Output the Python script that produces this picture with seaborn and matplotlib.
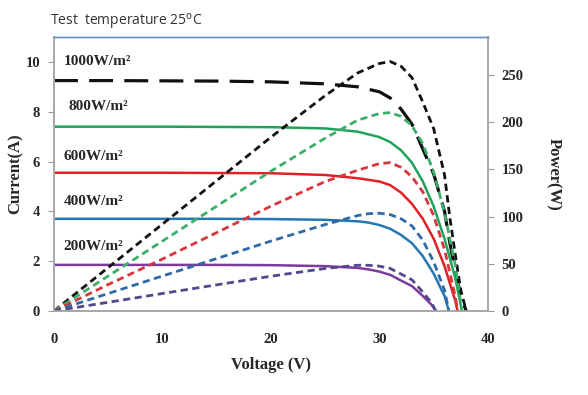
import matplotlib
matplotlib.use("Agg")
import matplotlib.pyplot as plt
import seaborn as sns

# ---- data ----
irradiances = ["1000W/m²", "800W/m²", "600W/m²", "400W/m²", "200W/m²"]

v_1000 = [0, 5, 10, 15, 20, 25, 28, 30, 31, 32, 33, 34, 35, 36, 36.5, 37, 37.5, 38.0]
i_1000 = [9.25, 9.25, 9.24, 9.23, 9.2, 9.12, 9.0, 8.8, 8.55, 8.1, 7.5, 6.5, 5.5, 4.0, 2.7, 1.6, 0.6, 0]
p_1000 = [0, 46, 92, 138, 184, 228, 252, 262, 264, 259, 247, 221, 193, 144, 98, 59, 22, 0]

v_800 = [0, 5, 10, 15, 20, 25, 28, 30, 31, 32, 33, 34, 35, 36, 37, 37.6]
i_800 = [7.4, 7.4, 7.4, 7.39, 7.38, 7.33, 7.2, 6.98, 6.78, 6.45, 5.95, 5.2, 4.2, 2.9, 1.3, 0]
p_800 = [0, 37, 74, 111, 148, 183, 202, 209, 210, 206, 196, 177, 147, 104, 48, 0]

v_600 = [0, 5, 10, 15, 20, 25, 28, 30, 31, 32, 33, 34, 35, 36, 37, 37.2]
i_600 = [5.55, 5.55, 5.55, 5.54, 5.53, 5.46, 5.33, 5.2, 5.05, 4.75, 4.3, 3.7, 2.9, 1.8, 0.4, 0]
p_600 = [0, 28, 55, 83, 111, 137, 149, 156, 157, 152, 142, 126, 101, 65, 15, 0]

v_400 = [0, 5, 10, 15, 20, 25, 28, 29, 30, 31, 32, 33, 34, 35, 36, 36.4]
i_400 = [3.7, 3.7, 3.7, 3.7, 3.69, 3.66, 3.6, 3.55, 3.45, 3.3, 3.05, 2.72, 2.2, 1.5, 0.6, 0]
p_400 = [0, 18.5, 37, 55.5, 74, 91.5, 101, 103, 103.5, 102, 97.6, 90, 75, 52, 22, 0]

v_200 = [0, 5, 10, 15, 20, 25, 28, 29, 30, 31, 32, 33, 34, 34.8, 35.2]
i_200 = [1.85, 1.85, 1.85, 1.85, 1.84, 1.8, 1.73, 1.67, 1.58, 1.45, 1.22, 1.0, 0.6, 0.25, 0]
p_200 = [0, 9.2, 18.5, 27.7, 36.8, 45, 48.4, 48.4, 47.4, 45, 39, 33, 20, 8.7, 0]

iv_colors = ["#111111", "#1fa35c", "#e02027", "#2477b3", "#7a3a9e"]
pv_colors = ["#111111", "#3cae6b", "#d8363c", "#2f6aa6", "#55478a"]
label_pos = [(0.9, 10.0), (1.3, 8.2), (0.9, 6.2), (0.9, 4.4), (0.9, 2.6)]

# ---- figure ----
sns.set_style("white")
plt.rcParams["font.family"] = ["Liberation Serif", "DejaVu Serif"]

fig = plt.figure(figsize=(5.88, 3.95), dpi=100)
ax = fig.add_axes([0.0918, 0.2127, 0.738, 0.6936])
ax2 = ax.twinx()

volts = [v_1000, v_800, v_600, v_400, v_200]
currents = [i_1000, i_800, i_600, i_400, i_200]
powers = [p_1000, p_800, p_600, p_400, p_200]

for k in range(5):
    # I-V curve (1000 W/m2 drawn with long dashes like the original)
    if k == 0:
        sns.lineplot(x=volts[k], y=currents[k], ax=ax, color=iv_colors[k],
                     lw=2.3, linestyle=(0, (7.5, 3.5)), sort=False)
    else:
        sns.lineplot(x=volts[k], y=currents[k], ax=ax, color=iv_colors[k],
                     lw=1.8, sort=False)
    # P-V curve
    sns.lineplot(x=volts[k], y=powers[k], ax=ax2, color=pv_colors[k],
                 lw=2.0, linestyle=(0, (2.6, 1.6)), sort=False)
    ax.text(label_pos[k][0], label_pos[k][1], irradiances[k], fontsize=11,
            fontweight="bold", va="center", ha="left")

ax.set_xlim(0, 40)
ax.set_ylim(0, 11)
ax2.set_ylim(0, 290)
ax.set_xticks([0, 10, 20, 30, 40])
ax.set_yticks([0, 2, 4, 6, 8, 10])
ax2.set_yticks([0, 50, 100, 150, 200, 250])

for a in (ax, ax2):
    a.tick_params(axis="both", direction="out", length=4, width=0.8,
                  color="#9a9a9a", labelsize=10.5, pad=6)
    for lab in a.get_xticklabels() + a.get_yticklabels():
        lab.set_fontweight("bold")
    for side in ["left", "right", "bottom"]:
        a.spines[side].set_color("#a8a8a8")
        a.spines[side].set_linewidth(1.2)
    a.spines["top"].set_color("#6b8dbd")
    a.spines["top"].set_linewidth(1.0)

ax.tick_params(axis="x", pad=12)
ax.set_xlabel("Voltage (V)", fontsize=12, fontweight="bold", labelpad=8)
ax.set_ylabel("Current(A)", fontsize=12, fontweight="bold", labelpad=1)
ax2.set_ylabel("Power(W)", fontsize=12, fontweight="bold", rotation=-90, labelpad=27)

fig.text(0.085, 0.945, "Test  temperature 25$^{\\rm o}$C", fontsize=10,
         family=["Open Sans", "DejaVu Sans"], color="#333333", va="center")

fig.savefig("out.png", dpi=100)
